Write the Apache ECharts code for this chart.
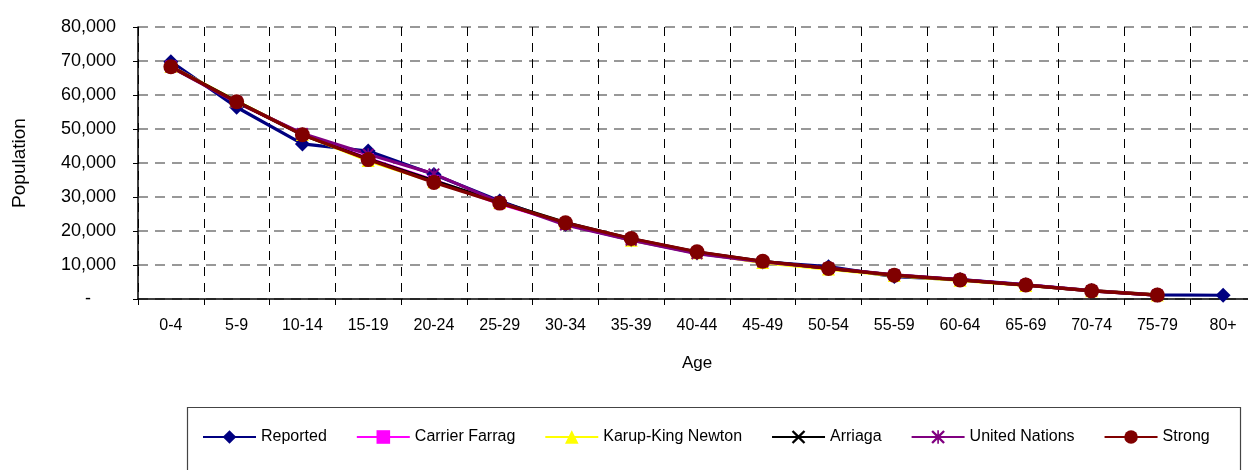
<!DOCTYPE html>
<html><head><meta charset="utf-8">
<script src="https://cdn.jsdelivr.net/npm/echarts@6/dist/echarts.min.js"></script>
<style>html,body{margin:0;padding:0;background:#fff}#c{width:1248px;height:470px}</style>
</head><body><div id="c"></div><script>
const categories = ['0-4','5-9','10-14','15-19','20-24','25-29','30-34','35-39','40-44','45-49','50-54','55-59','60-64','65-69','70-74','75-79','80+'];
const reported       = [69800, 56400, 45600, 43500, 36600, 28800, 22000, 17400, 13500, 10900, 9500, 6600, 5700, 4200, 2500, 1200, 1100];
const carrierFarrag  = [68500, 58000, 48500, 41300, 34900, 28000, 22300, 17600, 13700, 11000, 8900, 7000, 5600, 4150, 2400, 1150, null];
const karupKing      = [68400, 58200, 48400, 40700, 34500, 28400, 22400, 17300, 13600, 10700, 8800, 6900, 5500, 4000, 2450, 1200, null];
const arriaga        = [68300, 58100, 48300, 41200, 34800, 28500, 22500, 17700, 13800, 11100, 9000, 7000, 5600, 4100, 2400, 1150, null];
const unitedNations  = [68200, 57800, 48700, 42600, 36800, 28500, 21800, 17300, 13300, 10900, 9100, 7100, 5700, 4100, 2450, 1150, null];
const strong         = [68300, 58000, 48300, 41000, 34300, 28200, 22400, 17800, 13900, 11100, 9000, 7000, 5600, 4100, 2400, 1150, null];
const seriesNames = ['Reported','Carrier Farrag','Karup-King Newton','Arriaga','United Nations','Strong'];

const FONT = 'Liberation Sans, Arial, sans-serif';
const X_PATH = 'path://M0,1.2L1.2,0L5,3.8L8.8,0L10,1.2L6.2,5L10,8.8L8.8,10L5,6.2L1.2,10L0,8.8L3.8,5Z';
const STAR_PATH = 'path://M0,1.2L1.2,0L5,3.8L8.8,0L10,1.2L6.2,5L10,8.8L8.8,10L5,6.2L1.2,10L0,8.8L3.8,5Z M4.4,0L5.6,0L5.6,10L4.4,10Z';

function mk(name, data, color, symbol, size) {
  return {
    name, type: 'line', data, symbol, symbolSize: size,
    lineStyle: { color, width: 3.2 },
    itemStyle: { color, borderWidth: 0 },
    emphasis: { disabled: true },
    animation: false
  };
}

const chart = echarts.init(document.getElementById('c'), null, { renderer: 'canvas' });
chart.setOption({
  animation: false,
  backgroundColor: '#ffffff',
  textStyle: { fontFamily: FONT },
  grid: { left: 138, top: 27, width: 1118, height: 272, outerBoundsMode: 'none', containLabel: false },
  xAxis: {
    type: 'category', data: categories, boundaryGap: true,
    name: 'Age', nameLocation: 'middle', nameGap: 56,
    nameTextStyle: { color: '#000', fontSize: 17, fontFamily: FONT },
    axisLine: { lineStyle: { color: '#000', width: 1.5 } },
    axisTick: { show: true, length: 6, lineStyle: { color: '#000' }, alignWithLabel: false },
    axisLabel: { color: '#000', fontSize: 16, fontFamily: FONT, margin: 19 },
    splitLine: { show: true, lineStyle: { color: '#000', type: [9, 7], width: 1 } }
  },
  yAxis: {
    type: 'value', min: 0, max: 80000, interval: 10000,
    name: 'Population', nameLocation: 'middle', nameGap: 109, nameRotate: 90,
    nameTextStyle: { color: '#000', fontSize: 19, fontFamily: FONT },
    axisLine: { show: true, lineStyle: { color: '#000', width: 1.5 } },
    axisTick: { show: true, length: 5, lineStyle: { color: '#000' } },
    axisLabel: {
      color: '#000', fontSize: 18, fontFamily: FONT, margin: 22,
      formatter: v => v === 0 ? '-' + '\u00a0'.repeat(5) : v.toLocaleString('en-US')
    },
    splitLine: { show: true, lineStyle: { color: '#777', type: [10, 7], width: 1.5 } }
  },
  legend: {
    data: seriesNames, left: 202, top: 429, padding: 0, itemWidth: 53, itemHeight: 17, itemGap: 29,
    textStyle: { color: '#000', fontSize: 16, fontFamily: FONT },
    selectedMode: false
  },
  graphic: [{
    type: 'rect', left: 185, top: 405, shape: { width: 1053, height: 90 },
    style: { fill: 'none', stroke: '#444', lineWidth: 1.2 }, z: -1
  }],
  series: [
    mk('Reported', reported, '#000080', 'diamond', 15),
    mk('Carrier Farrag', carrierFarrag, '#ff00ff', 'rect', 11),
    mk('Karup-King Newton', karupKing, '#ffff00', 'triangle', 13),
    mk('Arriaga', arriaga, '#000000', X_PATH, 11),
    mk('United Nations', unitedNations, '#800080', STAR_PATH, 12),
    mk('Strong', strong, '#800000', 'circle', 15)
  ]
});
</script></body></html>
